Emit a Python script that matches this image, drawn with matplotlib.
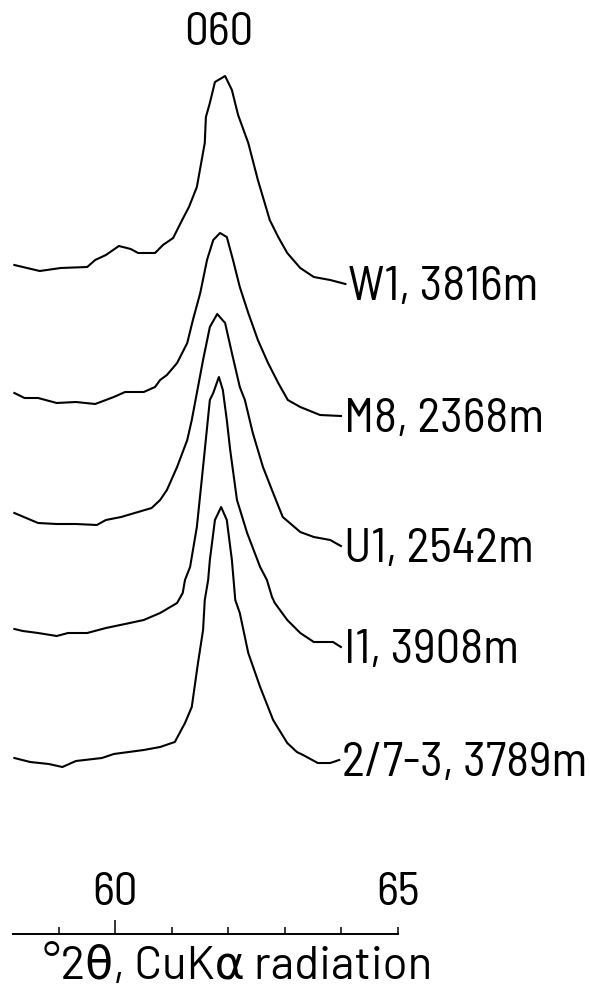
import matplotlib
matplotlib.use("Agg")
import matplotlib.pyplot as plt
from matplotlib.transforms import blended_transform_factory

# 2-theta positions (deg) and intensities (arbitrary units, above the right end) for each trace
w1_x = [58.21, 58.36, 58.66, 59.03, 59.50, 59.64, 59.83, 60.06, 60.27, 60.40, 60.70, 60.84, 61.02,
        61.18, 61.30, 61.44, 61.58, 61.60, 61.67, 61.76, 61.94, 62.06, 62.17, 62.35, 62.52, 62.73,
        62.88, 63.04, 63.27, 63.51, 63.80, 64.07]
w1_y = [19, 17, 13, 16, 17, 24, 29, 38, 35, 31, 31, 39, 46,
        64, 77, 97, 141, 167, 181, 202, 208, 194, 169, 141, 104, 64,
        47, 31, 16, 7, 4, 0]

m8_x = [58.21, 58.39, 58.63, 58.96, 59.30, 59.64, 59.97, 60.17, 60.50, 60.70, 60.79, 60.91, 61.09,
        61.27, 61.37, 61.50, 61.62, 61.73, 61.85, 61.97, 62.08, 62.20, 62.35, 62.52, 62.70, 62.88,
        63.05, 63.27, 63.62, 63.99]
m8_y = [23, 18, 18, 13, 14, 12, 19, 24, 24, 29, 36, 41, 53,
        73, 96, 123, 156, 176, 183, 179, 156, 129, 103, 76, 53, 33,
        16, 9, 1, 0]

u1_x = [58.21, 58.42, 58.63, 58.96, 59.30, 59.67, 59.83, 60.10, 60.34, 60.64, 60.79, 60.91, 61.09,
        61.27, 61.35, 61.44, 61.55, 61.67, 61.80, 61.94, 62.06, 62.20, 62.29, 62.43, 62.61, 62.79,
        62.96, 63.27, 63.51, 63.80, 63.99]
u1_y = [33, 28, 23, 22, 22, 21, 26, 29, 33, 38, 46, 56, 79,
        106, 126, 153, 186, 219, 232, 223, 193, 159, 146, 113, 79, 53,
        29, 14, 9, 6, 0]

i1_x = [58.21, 58.36, 58.63, 58.96, 59.16, 59.50, 59.83, 60.17, 60.50, 60.79, 61.09, 61.19, 61.23,
        61.32, 61.44, 61.55, 61.67, 61.73, 61.83, 61.90, 61.97, 62.03, 62.15, 62.33, 62.56, 62.68,
        62.77, 62.82, 63.04, 63.27, 63.51, 63.85, 63.99]
i1_y = [18, 16, 14, 11, 14, 14, 19, 23, 27, 34, 44, 54, 67,
        80, 120, 180, 247, 254, 270, 257, 227, 197, 147, 114, 80, 67,
        50, 44, 27, 14, 5, 5, 0]

n27_x = [58.21, 58.49, 58.82, 59.06, 59.30, 59.76, 59.97, 60.50, 60.79, 61.05, 61.23, 61.35, 61.46,
         61.55, 61.58, 61.64, 61.67, 61.76, 61.87, 61.97, 62.06, 62.12, 62.20, 62.35, 62.56, 62.79,
         63.04, 63.21, 63.32, 63.58, 63.80, 63.96]
n27_y = [2, -2, -4, -7, -1, 2, 6, 10, 13, 18, 37, 53, 97,
         130, 160, 180, 200, 240, 253, 240, 200, 160, 147, 107, 73, 40,
         17, 8, 5, -3, -3, 0]

samples = ["W1, 3816m", "M8, 2368m", "U1, 2542m", "I1, 3908m", "2/7-3, 3789m"]
offsets = [706, 574, 444, 343, 230]

fam = ["Barlow Semi Condensed", "DejaVu Sans"]

fig = plt.figure(figsize=(5.9, 9.9), dpi=100)

# stacked traces
ax = fig.add_axes([0, 0, 1, 1])
ax.set_xlim(57.956, 68.398)
ax.set_ylim(0, 990)
ax.axis("off")

xs = [w1_x, m8_x, u1_x, i1_x, n27_x]
ys = [w1_y, m8_y, u1_y, i1_y, n27_y]
for x, y, off, name in zip(xs, ys, offsets, samples):
    yy = [v + off for v in y]
    ax.plot(x, yy, color="black", lw=1.5, solid_joinstyle="round")
    ax.annotate(name, xy=(x[-1], yy[-1]), xytext=(2, -3), textcoords="offset points",
                ha="left", va="center", fontsize=35, family=fam)

ax.text(61.83, 957, "060", ha="center", va="center", fontsize=34, family=fam)

# 2-theta scale bar
ax2 = fig.add_axes([13 / 590, (990 - 934) / 990, 385 / 590, 0.0001])
ax2.set_xlim(58.19, 65)
for s in ["top", "left", "right"]:
    ax2.spines[s].set_visible(False)
ax2.spines["bottom"].set_linewidth(1.4)
ax2.set_yticks([])
ax2.set_xticks([60, 65])
ax2.set_xticklabels(["60", "65"], family=fam, fontsize=34)
ax2.set_xticks([59, 61, 62, 63, 64], minor=True)
ax2.tick_params(axis="x", which="both", direction="in", bottom=True, top=False,
                labelbottom=False, labeltop=True, width=1.1, pad=14)
ax2.tick_params(axis="x", which="major", length=5)
ax2.tick_params(axis="x", which="minor", length=5)
ax2.xaxis.get_major_ticks()[0].tick1line.set_markersize(10)
ax2.set_xlabel("°2θ, CuKα radiation", fontsize=33, family=["Barlow", "DejaVu Sans"], va="center")
ax2.xaxis.set_label_coords(0.584, 0.0232,
                           transform=blended_transform_factory(ax2.transAxes, fig.transFigure))

fig.savefig("out.png", dpi=100)
